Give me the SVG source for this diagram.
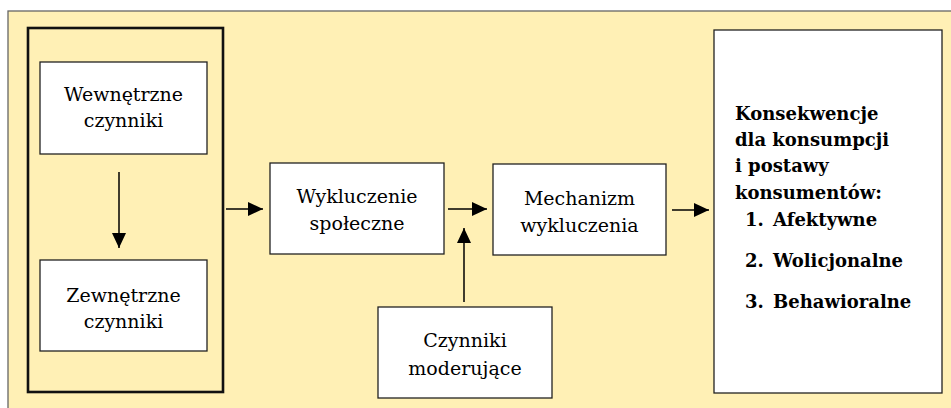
<svg xmlns="http://www.w3.org/2000/svg" width="951" height="408" viewBox="0 0 951 408">
<defs>
<style>
.box{fill:#fff;stroke:#222;stroke-width:1.3}
.t{font-family:"DejaVu Serif","Liberation Serif",serif;font-size:19px;fill:#000;text-anchor:middle}
.b{font-family:"DejaVu Serif","Liberation Serif",serif;font-size:18px;font-weight:bold;fill:#000}
.ln{stroke:#000;stroke-width:1.5;fill:none}
</style>
<marker id="ah" markerWidth="15" markerHeight="14" refX="15" refY="7" orient="auto" markerUnits="userSpaceOnUse">
<path d="M0,0 L15,7 L0,14 Z" fill="#000"/>
</marker>
</defs>
<rect x="8" y="11" width="960" height="420" fill="#FFF0B5" stroke="#666" stroke-width="1.3"/>
<g id="group-factors">
<rect x="28" y="28" width="195" height="364" fill="none" stroke="#111" stroke-width="2.6"/>
</g>
<g id="node-wewnetrzne">
<rect class="box" x="40" y="62" width="167" height="92"/>
<text class="t" x="123.5" y="101">Wewnętrzne</text>
<text class="t" x="123.5" y="127">czynniki</text>
</g>
<g id="node-zewnetrzne">
<rect class="box" x="40" y="260" width="167" height="91"/>
<text class="t" x="123.5" y="302">Zewnętrzne</text>
<text class="t" x="123.5" y="328">czynniki</text>
</g>
<g id="node-wykluczenie">
<rect class="box" x="270" y="163" width="174" height="91"/>
<text class="t" x="357" y="203">Wykluczenie</text>
<text class="t" x="357" y="230">społeczne</text>
</g>
<g id="node-mechanizm">
<rect class="box" x="493" y="164" width="173" height="91"/>
<text class="t" x="579.5" y="205">Mechanizm</text>
<text class="t" x="579.5" y="232">wykluczenia</text>
</g>
<g id="node-czynniki">
<rect class="box" x="378" y="307" width="174" height="91"/>
<text class="t" x="465" y="347">Czynniki</text>
<text class="t" x="465" y="375">moderujące</text>
</g>
<g id="node-konsekwencje">
<rect class="box" x="714" y="30" width="228" height="363"/>
<text class="b" x="735" y="120">Konsekwencje</text>
<text class="b" x="735" y="146">dla konsumpcji</text>
<text class="b" x="735" y="172">i postawy</text>
<text class="b" x="735" y="199">konsumentów:</text>
<text class="b" x="745" y="226">1.</text>
<text class="b" x="773" y="226">Afektywne</text>
<text class="b" x="745" y="267">2.</text>
<text class="b" x="773" y="267">Wolicjonalne</text>
<text class="b" x="745" y="308">3.</text>
<text class="b" x="773" y="308">Behawioralne</text>
</g>
<g id="connectors">
<line class="ln" x1="119" y1="172" x2="119" y2="248" marker-end="url(#ah)"/>
<line class="ln" x1="226" y1="209" x2="263" y2="209" marker-end="url(#ah)"/>
<line class="ln" x1="448" y1="209" x2="487" y2="209" marker-end="url(#ah)"/>
<line class="ln" x1="672" y1="210" x2="709" y2="210" marker-end="url(#ah)"/>
<line class="ln" x1="464" y1="302" x2="464" y2="228" marker-end="url(#ah)"/>
</g>
</svg>
